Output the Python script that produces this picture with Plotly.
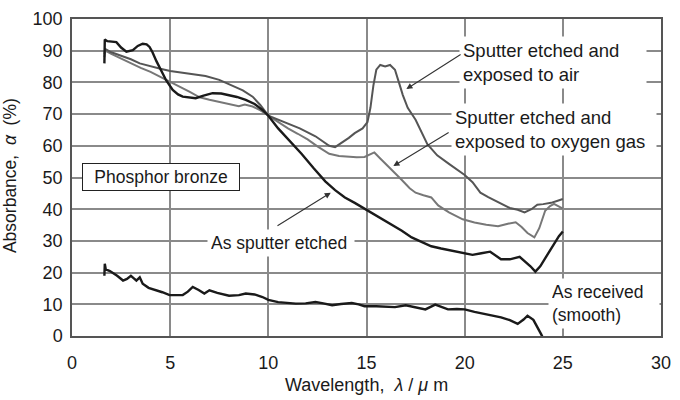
import plotly.graph_objects as go

# ---- data ----
received_x = [1.65, 1.67, 1.72, 1.93, 2.3, 2.6, 2.8, 3.0, 3.15, 3.28, 3.45, 3.6, 3.9, 4.3, 4.6, 4.97, 5.3, 5.64, 5.9, 6.15, 6.45, 6.74, 7.0, 7.4, 8.0, 8.5, 8.85, 9.3, 9.7, 10.0, 10.5, 11.0, 11.4, 11.9, 12.4, 12.8, 13.25, 13.7, 14.25, 14.6, 14.9, 15.5, 16.0, 16.45, 17.0, 17.4, 18.0, 18.5, 19.15, 19.6, 20.0, 20.5, 21.0, 21.4, 21.85, 22.3, 22.7, 23.0, 23.2, 23.5, 23.75, 23.9, 24.1]
received_y = [19, 22.8, 21, 20.5, 19, 17.5, 18, 19, 18.2, 17.5, 18.5, 16.5, 15.2, 14.5, 13.8, 12.9, 12.8, 12.9, 14, 15.5, 14.5, 13.4, 14.4, 13.6, 12.7, 12.9, 13.4, 13.1, 12.3, 11.4, 10.7, 10.4, 10.2, 10.3, 10.7, 10.3, 9.7, 10.1, 10.4, 10.0, 9.4, 9.4, 9.2, 9.1, 9.7, 9.1, 8.4, 9.9, 8.4, 8.5, 8.4, 7.6, 6.9, 6.5, 5.9, 5.0, 3.8, 5.2, 6.4, 5.1, 2.5, 0.5, -2]

etched_x = [1.65, 1.67, 1.8, 2.0, 2.26, 2.5, 2.77, 3.1, 3.35, 3.6, 3.8, 3.95, 4.1, 4.3, 4.55, 4.8, 5.13, 5.4, 5.64, 6.0, 6.3, 6.7, 7.16, 7.6, 8.0, 8.4, 8.85, 9.3, 9.7, 10.0, 10.5, 11.1, 11.7, 12.3, 12.9, 13.4, 13.9, 14.4, 14.9, 15.6, 16.3, 16.8, 17.3, 17.8, 18.3, 18.8, 19.4, 20.0, 20.4, 20.85, 21.3, 21.85, 22.3, 22.8, 23.1, 23.35, 23.6, 23.85, 24.2, 24.55, 24.8, 25.0]
etched_y = [86, 93.5, 93, 92.8, 92.7, 91, 89.7, 90.2, 91.5, 92.2, 92, 91.2, 89.5, 86.7, 83.5, 80.6, 77.6, 76.2, 75.5, 75.1, 75, 75.8, 76.6, 76.5, 76, 75.4, 74.5, 73.2, 71.3, 69.5, 65.5, 61.5, 57.4, 53, 48.8, 46, 43.7, 42, 40.2, 37.6, 35.2, 33.2, 31.1, 29.6, 28.3, 27.6, 26.9, 26.3, 25.6, 26.1, 26.6, 24.2, 24.2, 25, 23.5, 22, 20.3, 22, 25.5, 29, 31.5, 33]

air_x = [1.65, 1.7, 2.0, 2.5, 3.0, 3.45, 4.0, 4.5, 5.0, 5.5, 6.0, 6.8, 7.5, 8.2, 8.7, 9.2, 9.6, 10.0, 10.8, 11.6, 12.4, 13.1, 13.4, 13.7, 14.1, 14.4, 14.8, 15.05, 15.2, 15.35, 15.5, 15.7, 15.95, 16.2, 16.45, 16.65, 16.85, 17.1, 17.5, 18.1, 18.6, 19.2, 20.0, 20.4, 20.8, 21.2, 21.7, 22.3, 22.7, 23.05, 23.4, 23.7, 24.0, 24.4, 24.7, 25.0]
air_y = [89, 90.5, 89.5, 88.5, 87.3, 86, 85, 84.3, 83.6, 83.2, 82.8, 82, 80.8, 79, 77.5, 75.5, 72.8, 69.5, 67.5, 65.5, 63, 60, 59.6, 60.8, 62.5, 64, 65.5, 67.5, 72, 79, 84, 85.5, 85, 85.5, 84, 80, 76, 72, 68.2, 60.5, 57, 54.3, 50.8, 48.5, 45.2, 43.8, 42.2, 40.4, 39.8, 39, 40, 41.4, 41.6, 42, 42.6, 43.2]

oxygen_x = [1.65, 1.7, 2.0, 2.5, 3.0, 3.5, 4.0, 4.5, 5.0, 5.5, 6.0, 6.5, 7.0, 7.5, 8.0, 8.5, 8.8, 9.2, 9.6, 10.0, 10.5, 11.0, 11.5, 12.0, 12.5, 13.1, 13.6, 14.1, 14.5, 14.9, 15.15, 15.4, 15.7, 16.0, 16.3, 16.8, 17.2, 17.5, 17.9, 18.3, 18.65, 19.2, 19.9, 20.5, 21.1, 21.7, 22.2, 22.6, 22.9, 23.2, 23.55, 23.8, 24.1, 24.35, 24.55, 24.8, 25.0]
oxygen_y = [88, 90, 89, 87.5, 86, 84.6, 83.3, 81.8, 80.3, 78.6, 77, 75.3, 74.5, 73.8, 73.2, 72.5, 73, 72.4, 71.2, 69.5, 67.5, 65.5, 63.8, 62, 59.8, 57.5, 56.8, 56.6, 56.4, 56.5, 57.3, 57.9, 56, 54.2, 52.3, 49.2, 46.6, 45.2, 44.4, 43.7, 41.2, 39, 36.8, 35.8, 35.1, 34.6, 35.4, 35.9, 34.4, 32.5, 31.1, 34, 39.5, 41, 41.7, 41, 40.2]

x_ticks = [0, 5, 10, 15, 20, 25, 30]
y_ticks = [0, 10, 20, 30, 40, 50, 60, 70, 80, 90, 100]

FONT = "Liberation Sans, Arial, sans-serif"
TXT = "#1a1a1a"

fig = go.Figure()
fig.add_trace(go.Scatter(x=oxygen_x, y=oxygen_y, mode="lines", line=dict(color="#777777", width=2), showlegend=False))
fig.add_trace(go.Scatter(x=air_x, y=air_y, mode="lines", line=dict(color="#555555", width=2), showlegend=False))
fig.add_trace(go.Scatter(x=etched_x, y=etched_y, mode="lines", line=dict(color="#1a1a1a", width=2.4), showlegend=False))
fig.add_trace(go.Scatter(x=received_x, y=received_y, mode="lines", line=dict(color="#1a1a1a", width=2.4), showlegend=False))

ann = []
# labels with white backgrounds (they break the grid lines)
ann.append(dict(x=19.7, y=86.2, xref="x", yref="y", xanchor="left", yanchor="middle",
                text="Sputter etched and<br>exposed to air", align="left", showarrow=False,
                bgcolor="white", borderpad=3, width=180, font=dict(size=18.5, color=TXT)))
ann.append(dict(x=19.3, y=65.2, xref="x", yref="y", xanchor="left", yanchor="middle",
                text="Sputter etched and<br>exposed to oxygen gas", align="left", showarrow=False,
                bgcolor="white", borderpad=3, width=198, font=dict(size=18.5, color=TXT)))
ann.append(dict(x=6.9, y=29.4, xref="x", yref="y", xanchor="left", yanchor="middle",
                text="As sputter etched", align="left", showarrow=False,
                bgcolor="white", borderpad=3, width=140, font=dict(size=17.5, color=TXT)))
ann.append(dict(x=24.23, y=10.2, xref="x", yref="y", xanchor="left", yanchor="middle",
                text="As received<br>(smooth)", align="left", showarrow=False,
                bgcolor="white", borderpad=3, width=104, font=dict(size=17.5, color=TXT)))
ann.append(dict(x=4.54, y=50.3, xref="x", yref="y", xanchor="center", yanchor="middle",
                text="Phosphor bronze", showarrow=False, bgcolor="white",
                bordercolor="#222", borderwidth=1, borderpad=3, width=150,
                font=dict(size=17.5, color=TXT)))
# arrows
for hx, hy, tx, ty in [(17.03, 77.9, 19.87, 89.1), (16.37, 53.6, 19.26, 64.5), (13.18, 45.2, 10.39, 34.5)]:
    ann.append(dict(x=hx, y=hy, ax=tx, ay=ty, xref="x", yref="y", axref="x", ayref="y",
                    text="", showarrow=True, arrowhead=2, arrowsize=1.1, arrowwidth=1.1,
                    arrowcolor="#333", standoff=0, startstandoff=0))
# axis titles
ann.append(dict(x=-0.105, y=0.505, xref="paper", yref="paper", text="Absorbance,  <i>α</i>  (%)",
                textangle=-90, showarrow=False, xanchor="center", yanchor="middle",
                font=dict(size=17.5, color=TXT)))
ann.append(dict(x=0.5, y=-0.188, xref="paper", yref="paper", text="Wavelength,  <i>λ</i> / <i>μ</i> m",
                showarrow=False, xanchor="center", yanchor="bottom", borderpad=0,
                font=dict(size=18, color=TXT)))

fig.update_layout(
    width=680, height=400,
    margin=dict(l=72, r=16, t=9, b=64),
    paper_bgcolor="white", plot_bgcolor="white",
    font=dict(family=FONT, size=18, color=TXT),
    annotations=ann,
    showlegend=False,
)
fig.update_xaxes(range=[0, 30], tickvals=x_ticks, ticktext=[str(v) for v in x_ticks],
                 showgrid=True, gridcolor="#8a8a8a", gridwidth=1.5,
                 showline=True, mirror=True, linecolor="#555", linewidth=1.5,
                 zeroline=False, ticks="", ticklabelstandoff=10,
                 tickfont=dict(size=18, color=TXT))
fig.update_yaxes(range=[0, 100], tickvals=y_ticks, ticktext=[str(v) for v in y_ticks],
                 showgrid=True, gridcolor="#8a8a8a", gridwidth=1.5,
                 showline=True, mirror=True, linecolor="#555", linewidth=1.5,
                 zeroline=False, ticks="", ticklabelstandoff=4,
                 tickfont=dict(size=18, color=TXT))

fig.write_html("out.html")
